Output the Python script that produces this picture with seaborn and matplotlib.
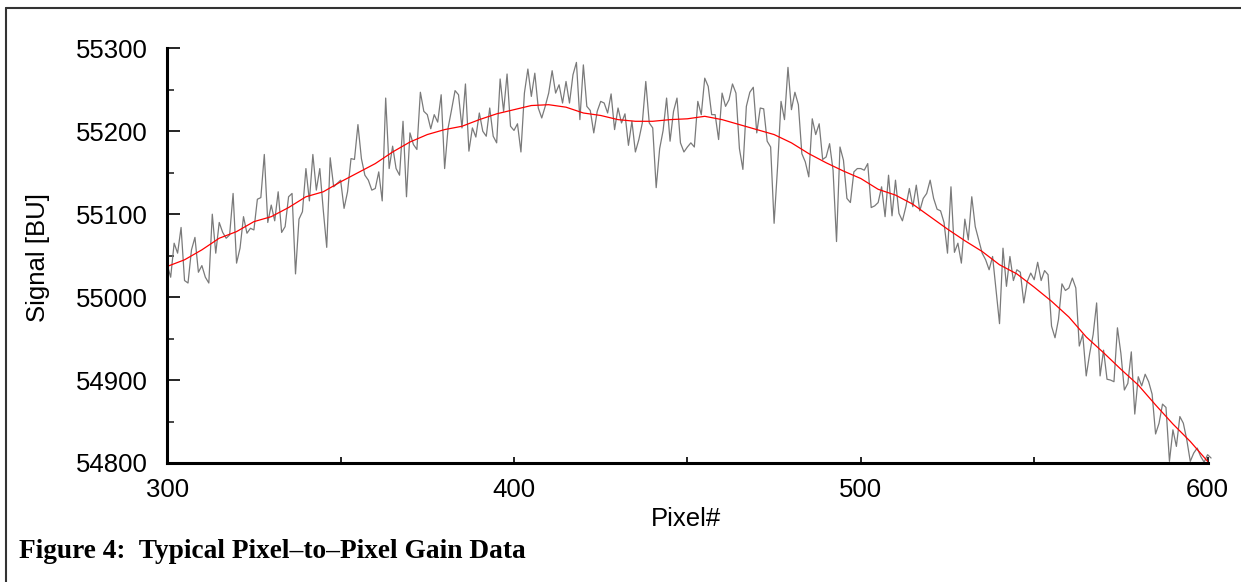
import seaborn as sns
import matplotlib.pyplot as plt
from matplotlib.lines import Line2D
from matplotlib.ticker import MultipleLocator

# raw gain signal, one value per pixel (300..601)
pixel = list(range(300, 602))
signal = [
    55039, 55024, 55065, 55053, 55084, 55020, 55017, 55057, 55072, 55030,
    55038, 55024, 55017, 55100, 55053, 55090, 55078, 55071, 55075, 55125,
    55041, 55059, 55097, 55077, 55083, 55081, 55118, 55120, 55172, 55090,
    55111, 55092, 55127, 55078, 55085, 55121, 55125, 55028, 55094, 55103,
    55155, 55116, 55172, 55129, 55155, 55105, 55060, 55168, 55133, 55137,
    55141, 55107, 55127, 55167, 55166, 55208, 55167, 55147, 55141, 55129,
    55131, 55151, 55116, 55240, 55155, 55182, 55155, 55147, 55212, 55121,
    55198, 55184, 55178, 55247, 55224, 55220, 55203, 55220, 55211, 55244,
    55155, 55204, 55226, 55249, 55244, 55204, 55257, 55176, 55204, 55193,
    55222, 55200, 55194, 55228, 55194, 55186, 55263, 55224, 55269, 55206,
    55201, 55209, 55175, 55246, 55275, 55242, 55270, 55228, 55216, 55230,
    55246, 55273, 55246, 55256, 55234, 55260, 55234, 55268, 55283, 55214,
    55280, 55230, 55225, 55198, 55224, 55236, 55234, 55222, 55245, 55202,
    55228, 55210, 55221, 55183, 55212, 55175, 55190, 55210, 55260, 55210,
    55204, 55132, 55179, 55201, 55240, 55188, 55224, 55240, 55186, 55175,
    55181, 55186, 55181, 55236, 55220, 55264, 55254, 55220, 55220, 55190,
    55246, 55230, 55238, 55257, 55246, 55179, 55154, 55230, 55247, 55253,
    55198, 55228, 55227, 55188, 55181, 55089, 55157, 55236, 55214, 55277,
    55226, 55247, 55232, 55173, 55163, 55145, 55215, 55196, 55209, 55166,
    55169, 55185, 55153, 55067, 55181, 55165, 55119, 55114, 55151, 55155,
    55155, 55153, 55161, 55108, 55110, 55114, 55133, 55097, 55147, 55098,
    55141, 55101, 55092, 55109, 55131, 55109, 55135, 55104, 55119, 55125,
    55141, 55119, 55106, 55104, 55090, 55053, 55133, 55054, 55065, 55041,
    55094, 55069, 55121, 55085, 55069, 55053, 55045, 55033, 55049, 55009,
    54968, 55059, 55013, 55049, 55020, 55033, 55030, 54993, 55019, 55029,
    55021, 55042, 55020, 55032, 55027, 54965, 54951, 54973, 55016, 55008,
    55011, 55023, 55011, 54941, 54955, 54905, 54932, 54955, 54993, 54905,
    54936, 54901, 54900, 54898, 54963, 54932, 54888, 54896, 54934, 54859,
    54904, 54893, 54907, 54898, 54883, 54835, 54848, 54871, 54867, 54802,
    54840, 54820, 54856, 54848, 54828, 54802, 54812, 54818, 54808, 54801,
    54810, 54806,
]

# smoothed trend (red curve)
trend_pixel = list(range(300, 601, 5))
trend_signal = [
    55037, 55045, 55057, 55071, 55079, 55091, 55097, 55108, 55121, 55127,
    55139, 55150, 55161, 55175, 55187, 55196, 55202, 55206, 55214, 55221,
    55226, 55231, 55232, 55229, 55222, 55219, 55214, 55212, 55212, 55214,
    55215, 55218, 55214, 55208, 55202, 55196, 55186, 55173, 55162, 55152,
    55143, 55130, 55123, 55112, 55097, 55082, 55068, 55055, 55039, 55028,
    55012, 54995, 54976, 54952, 54933, 54913, 54894, 54870, 54847, 54826,
    54802,
]

sns.set_theme(style="white")
plt.rcParams["font.family"] = ["Liberation Sans", "DejaVu Sans"]
plt.rcParams["text.color"] = "black"
plt.rcParams["axes.labelcolor"] = "black"

W, H = 1241, 582
fig = plt.figure(figsize=(W / 100, H / 100), dpi=100)
ax = fig.add_axes([167.2 / W, (H - 463) / H, (1207.6 - 167.2) / W, (463 - 48.3) / H])

sns.lineplot(x=pixel, y=signal, color="#7a7a7a", linewidth=0.9, ax=ax, clip_on=False)
sns.lineplot(x=trend_pixel, y=trend_signal, color="#ff0000", linewidth=0.9, ax=ax)

ax.set_xlim(300, 600)
ax.set_ylim(54800, 55300)
ax.xaxis.set_major_locator(MultipleLocator(100))
ax.xaxis.set_minor_locator(MultipleLocator(50))
ax.yaxis.set_major_locator(MultipleLocator(100))
ax.yaxis.set_minor_locator(MultipleLocator(50))

for side in ["top", "right"]:
    ax.spines[side].set_visible(False)
for side in ["left", "bottom"]:
    ax.spines[side].set_linewidth(2.2)
    ax.spines[side].set_color("black")

ax.tick_params(axis="y", which="major", direction="in", length=9, width=1.2,
               labelsize=18.5, pad=14, colors="black", left=True)
ax.tick_params(axis="y", which="minor", direction="in", length=5, width=1.2, left=True)
ax.tick_params(axis="x", which="both", direction="in", length=4, width=1.2,
               labelsize=18.5, pad=11, colors="black", bottom=True)

ax.set_xlabel("")
ax.set_ylabel("")
fig.text(38 / W, 1 - 257 / H, "Signal [BU]", rotation=90, fontsize=18.5,
         ha="center", va="center", color="black")
fig.text(686 / W, 1 - 519 / H, "Pixel#", fontsize=18.5, ha="center", va="center",
         color="black")
fig.text(19 / W, 1 - 552 / H, "Figure 4:  Typical Pixel\u2013to\u2013Pixel Gain Data",
         family=["Liberation Serif", "DejaVu Serif"], weight="bold", fontsize=19.7,
         ha="left", va="center", color="black")

# page frame (top and left edges)
fig.add_artist(Line2D([6 / W, 1], [1 - 8 / H, 1 - 8 / H], transform=fig.transFigure,
                      color="#333333", linewidth=1.5))
fig.add_artist(Line2D([6 / W, 6 / W], [0, 1 - 8 / H], transform=fig.transFigure,
                      color="#333333", linewidth=1.5))

fig.savefig("out.png", dpi=100)
